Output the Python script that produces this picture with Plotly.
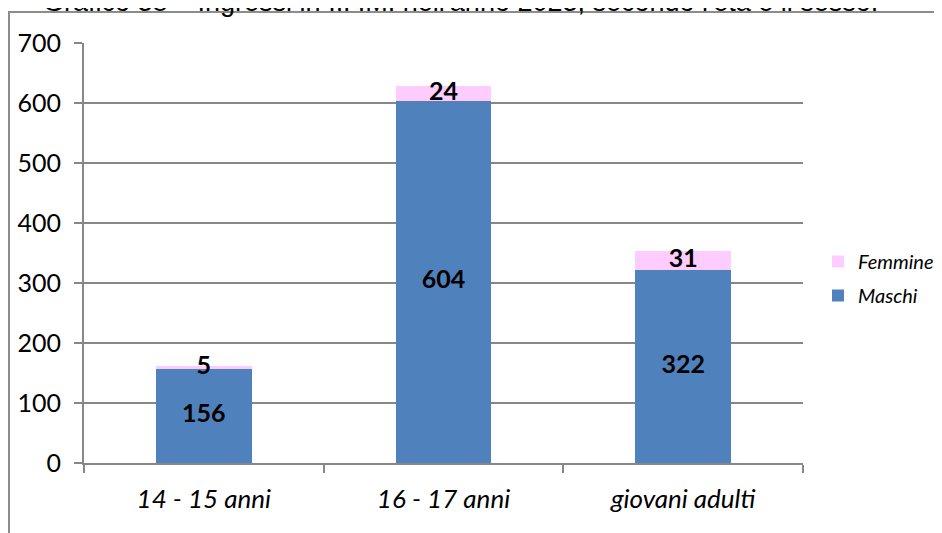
import plotly.graph_objects as go

categories = ["14 - 15 anni", "16 - 17 anni", "giovani adulti"]
maschi = [156, 604, 322]
femmine = [5, 24, 31]
y_ticks = [0, 100, 200, 300, 400, 500, 600, 700]
title_text = "Grafico 38 – Ingressi in I.P.M. nell'anno 2023, secondo l'età e il sesso."

# the page body adds an 8px offset; work in page pixels and convert
OFF = 8
W, H = 942 - OFF, 533 - OFF
L, T = 84 - OFF, 43 - OFF
B = H - (463 - OFF)
R = W - (803 - OFF)
pw, ph = W - L - R, H - T - B

def px_x(p):  # page pixel -> paper x
    return (p - OFF - L) / pw

def px_y(p):  # page pixel -> paper y
    return (H - B - (p - OFF)) / ph

font_main = "Lato, Carlito, 'Open Sans', sans-serif"
grid_col = "#878787"

fig = go.Figure()
fig.add_trace(go.Bar(x=categories, y=maschi, name="Maschi", marker=dict(color="#4F81BD", line=dict(width=0)),
                     width=0.4, legendgroup="m", legendrank=2, hoverinfo="y"))
fig.add_trace(go.Bar(x=categories, y=femmine, name="Femmine", marker=dict(color="#FFCCFF", line=dict(width=0)),
                     width=0.4, legendgroup="f", legendrank=1, hoverinfo="y"))

# data labels
lbl_font = dict(family=font_main, size=25, color="#000000", weight="bold")
fig.add_trace(go.Scatter(x=categories, y=[m / 2 for m in maschi], mode="text",
                         text=[str(m) for m in maschi], textposition="middle center",
                         textfont=lbl_font, showlegend=False, hoverinfo="skip"))
fig.add_trace(go.Scatter(x=categories, y=[m + f / 2 for m, f in zip(maschi, femmine)], mode="text",
                         text=[str(f) for f in femmine], textposition="middle center",
                         textfont=lbl_font, showlegend=False, hoverinfo="skip"))

fig.update_layout(
    width=W, height=H,
    margin=dict(l=L, r=R, t=T, b=B, autoexpand=False),
    barmode="stack",
    plot_bgcolor="white", paper_bgcolor="white",
    showlegend=True,
    legend=dict(x=px_x(818), y=px_y(242), xanchor="left", yanchor="top",
                traceorder="grouped", tracegroupgap=5,
                font=dict(family=font_main, size=20, color="#000000", style="italic"),
                itemwidth=30, bgcolor="rgba(0,0,0,0)"),
    xaxis=dict(
        type="category", tickson="boundaries", ticks="outside", ticklen=8, tickwidth=2, tickcolor=grid_col,
        showline=True, linecolor=grid_col, linewidth=2, showgrid=False,
        tickfont=dict(family=font_main, size=26, color="#000000", style="italic"),
        ticklabelstandoff=12, range=[-0.5, 2.5],
    ),
    yaxis=dict(
        range=[0, 700], tickvals=y_ticks, ticks="outside", ticklen=8, tickwidth=2, tickcolor=grid_col,
        showline=True, linecolor=grid_col, linewidth=2,
        showgrid=True, gridcolor=grid_col, gridwidth=2, zeroline=False,
        tickfont=dict(family=font_main, size=25, color="#000000"),
        ticklabelstandoff=8,
    ),
)

# partially visible title above the frame
fig.add_annotation(text=title_text, xref="paper", yref="paper", x=px_x(461), y=px_y(19),
                   xanchor="center", yanchor="bottom", showarrow=False,
                   font=dict(family="Liberation Sans, Arial, sans-serif", size=27, color="#000000"))

# chart frame
fig.add_shape(type="rect", xref="paper", yref="paper", x0=px_x(9), x1=px_x(980), y0=px_y(580), y1=px_y(12),
              line=dict(color="#8C8C8C", width=2), fillcolor="rgba(0,0,0,0)", layer="below")

fig.write_html("out.html")
